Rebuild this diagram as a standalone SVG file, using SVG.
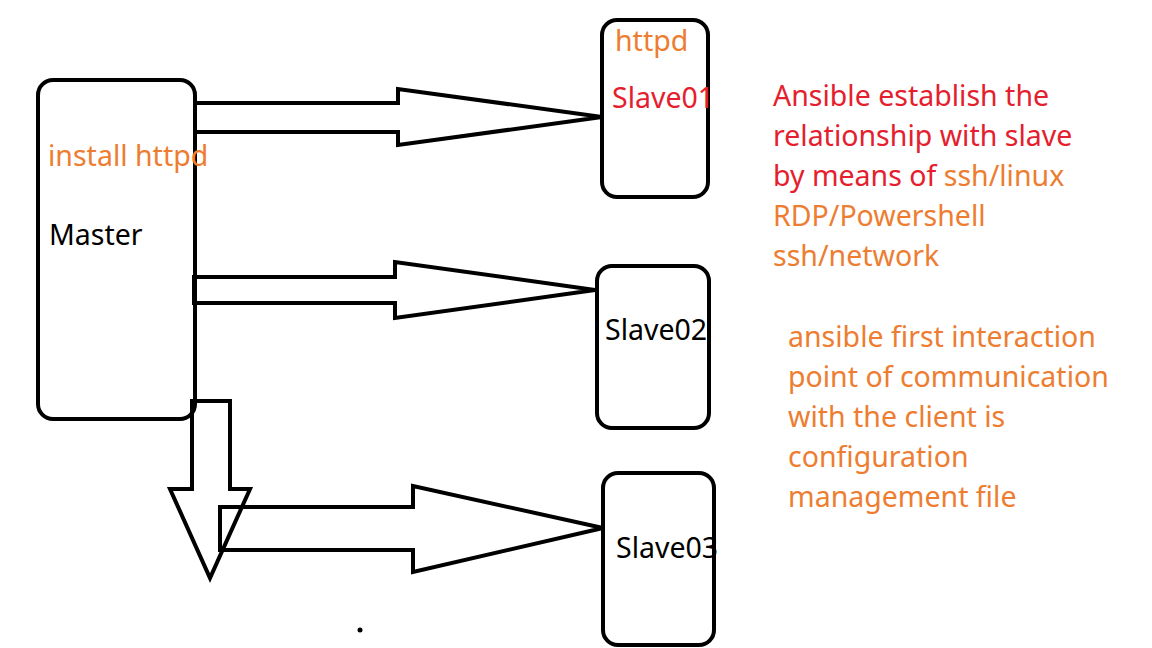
<svg xmlns="http://www.w3.org/2000/svg" width="1152" height="648" viewBox="0 0 1152 648">
<style>
.box{fill:none;stroke:#000;stroke-width:4}
.arr{fill:none;stroke:#000;stroke-width:4;stroke-linejoin:miter}
text{font-family:"Noto Sans","Open Sans",sans-serif;font-size:28.5px}
.or{fill:#ED7D31}
.rd{fill:#E5202E}
.bk{fill:#000}
</style>
<rect width="1152" height="648" fill="#fff"/>
<g id="connectors">
<polygon class="arr" points="195,103 398,103 398,89 602,117 398,145 398,132 195,132"/>
<polygon class="arr" points="194,277 395,277 395,262 595,290 395,318 395,303 194,303"/>
<polygon class="arr" points="192,401 230,401 230,489 250,489 210,578 170,489 192,489"/>
<polygon class="arr" points="220,507 413,507 413,486 603,528 413,572 413,550 220,550"/>
</g>
<g id="master">
<rect class="box" x="38" y="80" width="157" height="339" rx="15"/>
<text class="or" x="48" y="166">install httpd</text>
<text class="bk" x="49" y="245">Master</text>
</g>
<g id="slave01">
<rect class="box" x="602" y="20" width="106" height="177" rx="15"/>
<text class="or" x="615" y="51">httpd</text>
<text class="rd" x="612" y="108">Slave01</text>
</g>
<g id="slave02">
<rect class="box" x="597" y="266" width="112" height="162" rx="15"/>
<text class="bk" x="605" y="340">Slave02</text>
</g>
<g id="slave03">
<rect class="box" x="603" y="473" width="111" height="172" rx="15"/>
<text class="bk" x="616" y="558">Slave03</text>
</g>
<g id="note1">
<text class="rd" x="773" y="106">Ansible establish the</text>
<text class="rd" x="773" y="146">relationship with slave</text>
<text x="773" y="186"><tspan class="rd">by means of </tspan><tspan class="or">ssh/linux</tspan></text>
<text class="or" x="773" y="226">RDP/Powershell</text>
<text class="or" x="773" y="266">ssh/network</text>
</g>
<g id="note2">
<text class="or" x="788" y="347">ansible first interaction</text>
<text class="or" x="788" y="387">point of communication</text>
<text class="or" x="788" y="427">with the client is</text>
<text class="or" x="788" y="467">configuration</text>
<text class="or" x="788" y="507">management file</text>
</g>
<circle cx="360" cy="630" r="2.5" fill="#000"/>
</svg>
